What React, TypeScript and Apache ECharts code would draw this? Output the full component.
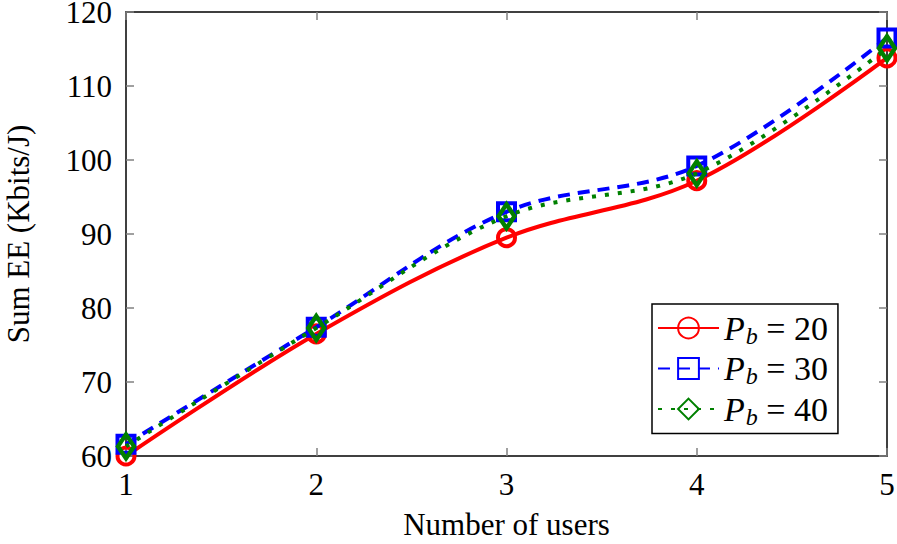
import React, { useEffect, useRef } from "react";
import * as echarts from "echarts";

const users = [1, 2, 3, 4, 5];
const pb20 = [60.0, 76.5, 89.5, 97.2, 113.8];
const pb30 = [61.6, 77.4, 93.0, 99.2, 116.5];
const pb40 = [61.3, 77.3, 92.4, 98.2, 115.1];
const yTicks = [60, 70, 80, 90, 100, 110, 120];
const seriesNames = ["20", "30", "40"];

const FONT = "'Liberation Serif', 'DejaVu Serif', serif";

export default function App() {
  const ref = useRef<HTMLDivElement>(null);
  useEffect(() => {
    if (!ref.current) return;
    const chart = echarts.init(ref.current, undefined, { renderer: "svg" });
    const mk = (vals: number[]) => users.map((u, i) => [u, vals[i]]);
    const axisLine = { show: true, lineStyle: { color: "#000", width: 1.5 } };
    const tick = { show: true, inside: true, length: 8, lineStyle: { color: "#808080", width: 1.5 } };
    chart.setOption({
      animation: false,
      backgroundColor: "#fff",
      grid: { left: 126, right: 10, top: 12, bottom: 88, containLabel: false, outerBoundsMode: "none" },
      xAxis: [
        {
          type: "value",
          min: 1,
          max: 5,
          interval: 1,
          name: "Number of users",
          nameLocation: "middle",
          nameGap: 55,
          nameTextStyle: { fontFamily: FONT, fontSize: 31, color: "#000", lineHeight: 26 },
          axisLine,
          axisTick: tick,
          splitLine: { show: false },
          axisLabel: { fontFamily: FONT, fontSize: 31, color: "#000", margin: 13 },
        },
        {
          type: "value",
          position: "top",
          min: 1,
          max: 5,
          interval: 1,
          axisLine,
          axisTick: tick,
          splitLine: { show: false },
          axisLabel: { show: false },
        },
      ],
      yAxis: [
        {
          type: "value",
          min: yTicks[0],
          max: yTicks[yTicks.length - 1],
          interval: 10,
          name: "Sum EE (Kbits/J)",
          nameLocation: "middle",
          nameGap: 95,
          nameTextStyle: { fontFamily: FONT, fontSize: 31, color: "#000", lineHeight: 26 },
          axisLine,
          axisTick: tick,
          splitLine: { show: false },
          axisLabel: { fontFamily: FONT, fontSize: 31, color: "#000", margin: 14, lineHeight: 22 },
        },
        {
          type: "value",
          position: "right",
          min: yTicks[0],
          max: yTicks[yTicks.length - 1],
          interval: 10,
          axisLine,
          axisTick: tick,
          splitLine: { show: false },
          axisLabel: { show: false },
        },
      ],
      legend: {
        orient: "vertical",
        left: 652,
        top: 304,
        width: 210,
        padding: [7, 10, 5, 5],
        itemGap: 4,
        itemWidth: 61,
        itemHeight: 26,
        borderColor: "#000",
        borderWidth: 1.5,
        backgroundColor: "#fff",
        data: seriesNames,
        formatter: (n: string) => `{i|P}{s|b}{n| = ${n}}`,
        textStyle: {
          color: "#000",
          rich: {
            i: { fontFamily: FONT, fontStyle: "italic", fontSize: 34, color: "#000" },
            s: { fontFamily: FONT, fontStyle: "italic", fontSize: 24, color: "#000", padding: [15, 0, 0, 1] },
            n: { fontFamily: FONT, fontSize: 34, color: "#000" },
          },
        },
      },
      series: [
        {
          name: seriesNames[0],
          type: "line",
          data: mk(pb20),
          smooth: 0.35,
          symbol: "circle",
          symbolSize: 17,
          lineStyle: { color: "#ff0000", width: 4 },
          itemStyle: { color: "rgba(0,0,0,0)", borderColor: "#ff0000", borderWidth: 4 },
          z: 2,
        },
        {
          name: seriesNames[1],
          type: "line",
          data: mk(pb30),
          smooth: 0.35,
          symbol: "rect",
          symbolSize: 17,
          lineStyle: { color: "#0000ff", width: 4, type: [12, 8] },
          itemStyle: { color: "rgba(0,0,0,0)", borderColor: "#0000ff", borderWidth: 4 },
          z: 3,
        },
        {
          name: seriesNames[2],
          type: "line",
          data: mk(pb40),
          smooth: 0.35,
          symbol: "diamond",
          symbolSize: [16, 24],
          lineStyle: { color: "#008000", width: 4, type: [4, 9] },
          itemStyle: { color: "rgba(0,0,0,0)", borderColor: "#008000", borderWidth: 4.5 },
          z: 4,
        },
      ],
    });
    return () => chart.dispose();
  }, []);
  return <div ref={ref} style={{ width: 897, height: 544, position: "absolute", left: 0, top: 0 }} />;
}
